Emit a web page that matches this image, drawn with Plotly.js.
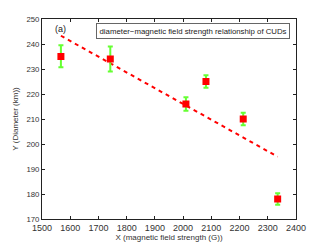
<!DOCTYPE html>
<html><head><meta charset="utf-8">
<script src="https://cdn.plot.ly/plotly-3.0.1.min.js"></script>
<style>html,body{margin:0;padding:0;background:#fff}#c{width:327px;height:246px}</style>
</head><body><div id="c"></div>
<script>
const fieldStrength = [1567, 1742, 2010, 2081, 2213, 2335];
const diameter = [235, 234, 216, 225, 210, 178];
const errPlus = [4.5, 5, 2.7, 2.5, 2.5, 2.3];
const errMinus = [4.3, 5, 2.7, 2.5, 2.5, 2.3];
const fitX = [1567, 2335];
const fitY = [243.3, 194.9];
const xTicks = [1500,1600,1700,1800,1900,2000,2100,2200,2300,2400];
const yTicks = [170,180,190,200,210,220,230,240,250];

const FONT = 'Liberation Sans, Arial, sans-serif';
const traces = [
  {x: fitX, y: fitY, mode: 'lines', line: {color: '#ff0000', width: 2, dash: '4px,4px'}, showlegend: false, hoverinfo: 'skip'},
  {x: fieldStrength, y: diameter, mode: 'markers',
   marker: {symbol: 'square', size: 7, color: '#ff0000'},
   error_y: {type: 'data', symmetric: false, array: errPlus, arrayminus: errMinus, color: '#66ff33', thickness: 2, width: 2.5},
   showlegend: false}
];
const axisCommon = {showgrid: false, zeroline: false, showline: true, linecolor: '#222', linewidth: 1, mirror: 'ticks', ticks: 'inside', ticklen: 3, tickcolor: '#222'};
const layout = {
  width: 327, height: 246,
  margin: {l: 42, r: 31, t: 19, b: 27},
  paper_bgcolor: '#fff', plot_bgcolor: '#fff',
  xaxis: Object.assign({}, axisCommon, {range: [1500, 2400], tickvals: xTicks, ticktext: xTicks.map(String),
    tickfont: {family: FONT, size: 9, color: '#333'},
    title: {text: 'X (magnetic field strength (G))', font: {family: FONT, size: 8, color: '#333'}, standoff: 2}}),
  yaxis: Object.assign({}, axisCommon, {range: [170, 250], tickvals: yTicks, ticktext: yTicks.map(String),
    tickfont: {family: FONT, size: 7.8, color: '#333'},
    title: {text: 'Y (Diameter (km))', font: {family: FONT, size: 8, color: '#333'}, standoff: 6}}),
  annotations: [
    {xref: 'paper', yref: 'paper', x: 0.042, y: 0.948, xanchor: 'left', yanchor: 'middle', text: '(a)', showarrow: false,
     font: {family: FONT, size: 9, color: '#222'}},
    {xref: 'paper', yref: 'paper', x: 0.978, y: 0.94, xanchor: 'right', yanchor: 'middle', showarrow: false,
     text: 'diameter−magnetic field strength relationship of CUDs',
     font: {family: FONT, size: 7.8, color: '#222'},
     bordercolor: '#666', borderwidth: 1, borderpad: 2.5, bgcolor: '#fff'}
  ]
};
Plotly.newPlot('c', traces, layout, {staticPlot: true, displayModeBar: false});
</script></body></html>
